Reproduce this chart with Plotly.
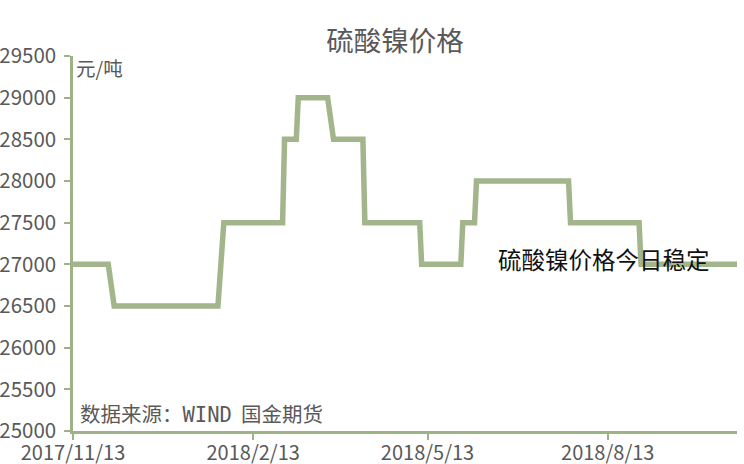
import plotly.graph_objects as go

# Breakpoints of the step-like price series (yuan/ton)
dates = [
    "2017-11-13", "2017-12-01", "2017-12-04", "2018-01-26", "2018-01-29",
    "2018-02-28", "2018-03-01", "2018-03-07", "2018-03-08", "2018-03-23",
    "2018-03-26", "2018-04-10", "2018-04-11", "2018-05-09", "2018-05-10",
    "2018-05-30", "2018-05-31", "2018-06-06", "2018-06-07", "2018-07-24",
    "2018-07-25", "2018-08-29", "2018-08-30", "2018-10-18",
]
prices = [
    27000, 27000, 26500, 26500, 27500,
    27500, 28500, 28500, 29000, 29000,
    28500, 28500, 27500, 27500, 27000,
    27000, 27500, 27500, 28000, 28000,
    27500, 27500, 27000, 27000,
]

x_tick_vals = ["2017-11-13", "2018-02-13", "2018-05-13", "2018-08-13"]
x_tick_text = ["2017/11/13", "2018/2/13", "2018/5/13", "2018/8/13"]
y_tick_vals = [25000, 25500, 26000, 26500, 27000, 27500, 28000, 28500, 29000, 29500]
y_tick_text = [str(v) for v in y_tick_vals]

LINE = "#a3b58b"
AXIS = "#9db387"
TXT = "#595959"
FONT = "Noto Sans CJK SC"

fig = go.Figure()
fig.add_trace(go.Scatter(
    x=dates, y=prices, mode="lines",
    line=dict(color=LINE, width=5.5),
    showlegend=False, hoverinfo="skip",
))

fig.update_layout(
    width=744, height=464,
    margin=dict(l=73, r=7, t=56, b=33),
    paper_bgcolor="white", plot_bgcolor="white",
    title=dict(text="硫酸镍价格", x=0.531, xanchor="center", y=0.91, yanchor="middle",
               font=dict(family=FONT, size=27.5, color=TXT)),
    font=dict(family=FONT, color=TXT),
)

fig.update_xaxes(
    type="date", range=["2017-11-13", "2018-10-18"],
    tickvals=x_tick_vals, ticktext=x_tick_text,
    showgrid=False, zeroline=False,
    showline=True, linecolor=AXIS, linewidth=2.5,
    ticks="outside", ticklen=6, tickcolor=AXIS, tickwidth=2,
    tickfont=dict(family=FONT, size=20, color=TXT),
    ticklabelstandoff=-4,
    automargin=False,
)
fig.update_yaxes(
    range=[25000, 29500], tickvals=y_tick_vals, ticktext=y_tick_text,
    showgrid=False, zeroline=False,
    showline=True, linecolor=AXIS, linewidth=2.5,
    ticks="outside", ticklen=6, tickcolor=AXIS, tickwidth=2,
    tickfont=dict(family=FONT, size=20.5, color=TXT),
    ticklabelstandoff=4,
    automargin=False,
)

fig.add_annotation(text="元/吨", xref="paper", yref="paper", x=0.002, y=0.97,
                   xanchor="left", yanchor="middle", showarrow=False,
                   font=dict(family=FONT, size=19.5, color=TXT))
fig.add_annotation(text="硫酸镍价格今日稳定", xref="paper", yref="paper", x=0.637, y=0.458,
                   xanchor="left", yanchor="middle", showarrow=False,
                   font=dict(family=FONT, size=23.5, color="#111111"))
fig.add_annotation(text="数据来源：<span style='font-family:DejaVu Sans Mono'>WIND</span>\u00a0 国金期货",
                   xref="paper", yref="paper", x=0.008, y=0.048,
                   xanchor="left", yanchor="middle", showarrow=False,
                   font=dict(family=FONT, size=20.5, color=TXT))

fig.write_html("out.html", config={"displayModeBar": False},
               post_script="document.body.style.margin='0';")
